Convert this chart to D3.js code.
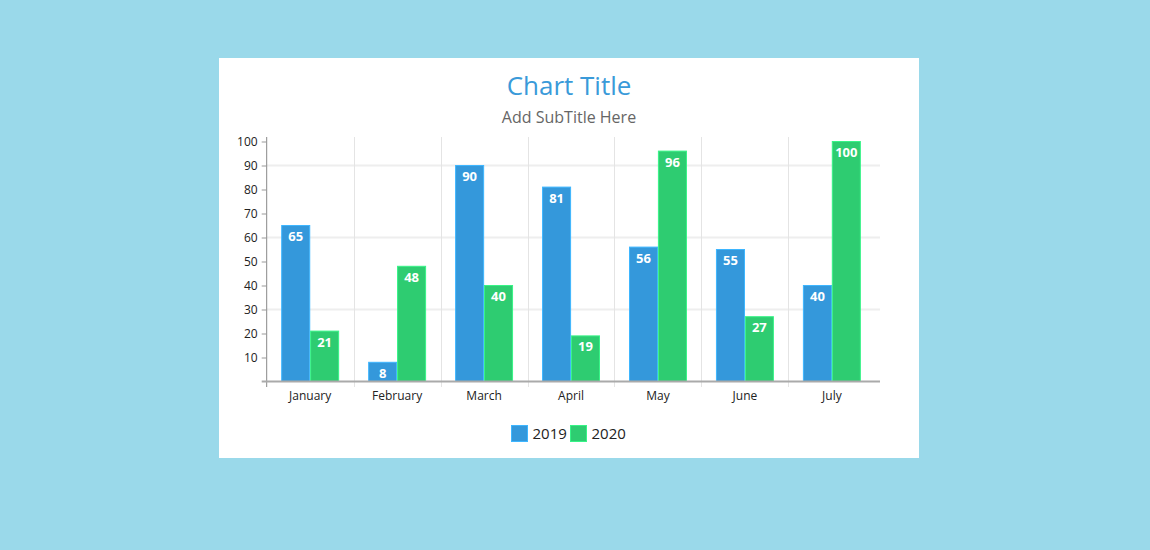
<!DOCTYPE html>
<html><head><meta charset="utf-8">
<script src="https://cdn.jsdelivr.net/npm/d3@7"></script>
<style>
html,body{margin:0;padding:0;background:#9ad9ea;}
svg{display:block;font-family:"Open Sans",sans-serif;}
</style></head>
<body>
<svg id="chart" width="1150" height="550"></svg>
<script>
const categories = ["January","February","March","April","May","June","July"];
const seriesNames = ["2019","2020"];
const values2019 = [65, 8, 90, 81, 56, 55, 40];
const values2020 = [21, 48, 40, 19, 96, 27, 100];
const yTicks = [10,20,30,40,50,60,70,80,90,100];
const gridTicks = [30,60,90];
const colors = ["#3498db","#2ecc71"];
const title = "Chart Title";
const subtitle = "Add SubTitle Here";

(function(){
const svg = d3.select("#chart");
svg.append("rect").attr("x",0).attr("y",0).attr("width",1150).attr("height",550).attr("fill","#9ad9ea");
svg.append("rect").attr("x",219).attr("y",58).attr("width",700).attr("height",400).attr("fill","#ffffff");

svg.append("text").attr("x",569).attr("y",95).attr("text-anchor","middle")
  .attr("font-size",26).attr("fill","#3a9ad9").text(title);
svg.append("text").attr("x",569).attr("y",123).attr("text-anchor","middle")
  .attr("font-size",16).attr("fill","#666").text(subtitle);

const pLeft = 266.7, pRight = 880, pTop = 141.5, pBottom = 381.5;
const x0 = d3.scaleBand().domain(categories).range([pLeft, pLeft + 86.95*7]).paddingInner(0).paddingOuter(0);
const x1 = d3.scaleBand().domain(seriesNames).range([15, x0.bandwidth()-15]).paddingInner(0.03);
const y = d3.scaleLinear().domain([0,100]).range([pBottom, pTop]);

const g = svg.append("g");
g.selectAll(".hgrid").data(gridTicks).join("line")
  .attr("x1",pLeft).attr("x2",pRight)
  .attr("y1",d=>y(d)).attr("y2",d=>y(d))
  .attr("stroke","#eeeeee").attr("stroke-width",2);
g.selectAll(".vgrid").data(categories.slice(1)).join("line")
  .attr("x1",d=>Math.round(x0(d))+0.5).attr("x2",d=>Math.round(x0(d))+0.5)
  .attr("y1",137).attr("y2",387)
  .attr("stroke","#e4e4e4").attr("stroke-width",1);

const data = categories.map((c,i)=>({cat:c, vals:[values2019[i], values2020[i]]}));
const groups = g.selectAll(".grp").data(data).join("g")
  .attr("transform",d=>`translate(${x0(d.cat)},0)`);
groups.selectAll("rect").data(d=>d.vals.map((v,j)=>({s:seriesNames[j],v,j}))).join("rect")
  .attr("x",d=>x1(d.s)).attr("width",x1.bandwidth())
  .attr("y",d=>y(d.v)).attr("height",d=>y(0)-y(d.v))
  .attr("fill",d=>colors[d.j])
  .attr("stroke",d=>d3.color(colors[d.j]).brighter(0.5))
  .attr("stroke-width",1);
groups.selectAll("text").data(d=>d.vals.map((v,j)=>({s:seriesNames[j],v,j}))).join("text")
  .attr("x",d=>x1(d.s)+x1.bandwidth()/2).attr("y",d=>y(d.v)+15.5)
  .attr("text-anchor","middle").attr("font-size",13).attr("font-weight","bold")
  .attr("fill","#fff").text(d=>d.v);

const yAxis = d3.axisLeft(y).tickValues(yTicks).tickSize(5).tickPadding(4);
const ya = svg.append("g").attr("transform",`translate(${pLeft},0)`).call(yAxis);
ya.select(".domain").attr("d",`M0,137V387`).attr("stroke","#888");
ya.selectAll(".tick line").attr("stroke","#999");
ya.selectAll("text").attr("font-size",12).attr("fill","#222").attr("font-family","'Open Sans',sans-serif");

const xAxis = d3.axisBottom(x0).tickSize(0).tickPadding(10);
const xa = svg.append("g").attr("transform",`translate(0,${pBottom})`).call(xAxis);
xa.select(".domain").attr("d",`M${pLeft-5},0H${pRight}`).attr("stroke","#aaa").attr("stroke-width",2);
xa.selectAll("text").attr("font-size",12).attr("fill","#222").attr("font-family","'Open Sans',sans-serif");

const legendX = [511.5, 570.5];
const lg = svg.append("g");
seriesNames.forEach((s,i)=>{
  lg.append("rect").attr("x",legendX[i]).attr("y",425.5).attr("width",16).attr("height",16)
    .attr("fill",colors[i]).attr("stroke",d3.color(colors[i]).brighter(0.5)).attr("stroke-width",1);
  lg.append("text").attr("x",legendX[i]+21).attr("y",439).attr("font-size",15)
    .attr("fill","#222").text(s);
});
})();
</script>
</body></html>
